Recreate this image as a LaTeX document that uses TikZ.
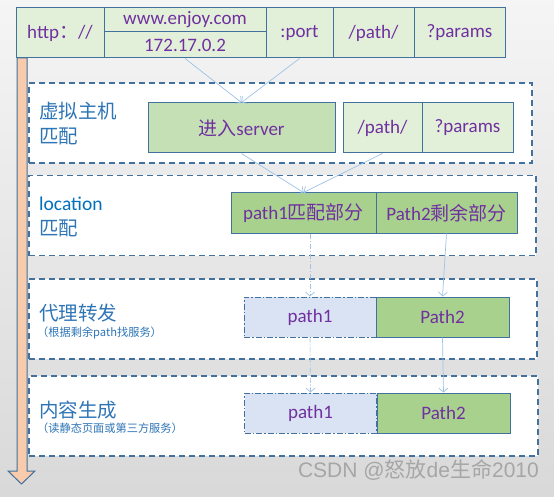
\documentclass[tikz,border=0pt]{standalone}
\usepackage{fontspec}
\setmainfont{Carlito}
\newfontfamily\cjk{Noto Sans CJK SC}
\newfontfamily\markfont{Liberation Sans}
\usetikzlibrary{arrows.meta,positioning,calc}
\definecolor{urlgreen}{HTML}{E2F0D9}
\definecolor{servergreen}{HTML}{C5E0B4}
\definecolor{pathgreen}{HTML}{A9D18E}
\definecolor{pathblue}{HTML}{DAE3F3}
\definecolor{boxblue}{HTML}{41719C}
\definecolor{textpurple}{HTML}{7030A0}
\definecolor{labelblue}{HTML}{2E75B6}
\definecolor{locblue}{HTML}{0070C0}
\definecolor{linkblue}{HTML}{9DC3E6}
\definecolor{flowpeach}{HTML}{F8CBAD}

\begin{document}
\begin{tikzpicture}[x=1pt,y=-1pt,
  urlpart/.style={draw=boxblue,line width=1pt,fill=urlgreen,text=textpurple,inner sep=0pt,minimum height=50pt,font=\fontsize{19}{22}\selectfont},
  pathpart/.style={urlpart,fill=pathgreen,minimum height=40pt,minimum width=133pt},
  stagebox/.style={draw=boxblue,line width=1.4pt,dash pattern=on 6pt off 4pt,fill=white,minimum height=80pt,inner sep=0pt},
  stagelabel/.style={anchor=west,align=left,text=labelblue,inner sep=0pt,font=\fontsize{19.5}{25}\selectfont},
  stagenote/.style={anchor=west,text=labelblue,inner sep=0pt,font=\cjk\fontsize{11.2}{12}\selectfont},
  flow/.style={-{Straight Barb[length=4pt,width=9pt]},draw=linkblue,line width=0.7pt},
  flowdash/.style={flow,dash pattern=on 5pt off 2pt on 1pt off 2pt}
]
\useasboundingbox (0,0) rectangle (554,497);
\shade[top color=black!4,bottom color=black!15] (0,0) rectangle (554,497);

% request timeline
\draw[draw=boxblue,fill=flowpeach,line width=1pt] (17,58) -- (27,58) -- (27,471) -- (35,471) -- (21.5,484) -- (8,471) -- (17,471) -- cycle;

% url parts
\node[urlpart,minimum width=88pt] (http) at (60,33) {http{\cjk ：}//};
\node[urlpart,minimum width=162pt,minimum height=24pt] (host) at (185,20) {www.enjoy.com};
\node[urlpart,minimum width=162pt,minimum height=26pt] (ip) at (185,45) {172.17.0.2};
\node[urlpart,minimum width=67pt] (port) at (299.5,33) {:port};
\node[urlpart,minimum width=81pt] (path) at (373.5,33) {/path/};
\node[urlpart,minimum width=91pt] (params) at (459.5,33) {?params};

% stages
\node[stagebox,minimum width=503pt] (vhost) at (280.5,123) {};
\node[stagebox,minimum width=507pt] (loc) at (282.5,215.5) {};
\node[stagebox,minimum width=508pt] (proxy) at (283,319) {};
\node[stagebox,minimum width=509pt] (gen) at (283.5,416) {};

\node[stagelabel] (vhostlabel) at (39,124) {\cjk 虚拟主机\\\cjk 匹配};
\node[stagelabel,text=locblue] (loclabel) at (39,217) {location\\{\cjk\color{labelblue} 匹配}};
\node[stagelabel] (proxylabel) at (39,313) {\cjk 代理转发};
\node[stagenote] (proxynote) at (37,333) {（根据剩余path找服务）};
\node[stagelabel] (genlabel) at (39,410) {\cjk 内容生成};
\node[stagenote] (gennote) at (37,428) {（读静态页面或第三方服务）};

% virtual host
\node[urlpart,fill=servergreen,minimum width=187pt] (server) at (241.5,128) {{\cjk 进入}server};
\node[urlpart,minimum width=79pt] (vpath) at (382.5,128) {/path/};
\node[urlpart,minimum width=91pt] (vparams) at (467.5,128) {?params};

% location
\node[pathpart,minimum width=145pt] (match) at (303.5,213) {path1{\cjk 匹配部分}};
\node[pathpart,minimum width=141pt] (rest) at (446.5,213) {Path2{\cjk 剩余部分}};

% proxy + content
\node[pathpart,fill=pathblue,minimum width=132pt,dash pattern=on 6pt off 2pt on 1.5pt off 2pt] (proxypath1) at (310,317) {path1};
\node[pathpart] (proxypath2) at (442.5,317) {Path2};
\node[pathpart,fill=pathblue,minimum width=132pt,dash pattern=on 6pt off 2pt on 1.5pt off 2pt] (genpath1) at (310.5,413) {path1};
\node[pathpart] (genpath2) at (443.5,413) {Path2};

\draw[flow] (ip.south) -- (server.north);
\draw[flow] (port.south) -- (server.north);
\draw[flow] (server.south) -- (match.north);
\draw[flow] (vpath.south) -- (match.north);
\draw[flowdash] (match.south -| proxypath1.north) -- (proxypath1.north);
\draw[flowdash] (proxypath1.south) -- (genpath1.north);
\draw[flow] (rest.south) -- (proxypath2.north);
\draw[flow] (proxypath2.south) -- (genpath2.north);

\node[anchor=east,text=black!35,inner sep=0pt,font=\markfont\fontsize{21}{22}\selectfont] (mark) at (539,470) {CSDN @{\cjk 怒放}de{\cjk 生命}2010};
\end{tikzpicture}
\end{document}
